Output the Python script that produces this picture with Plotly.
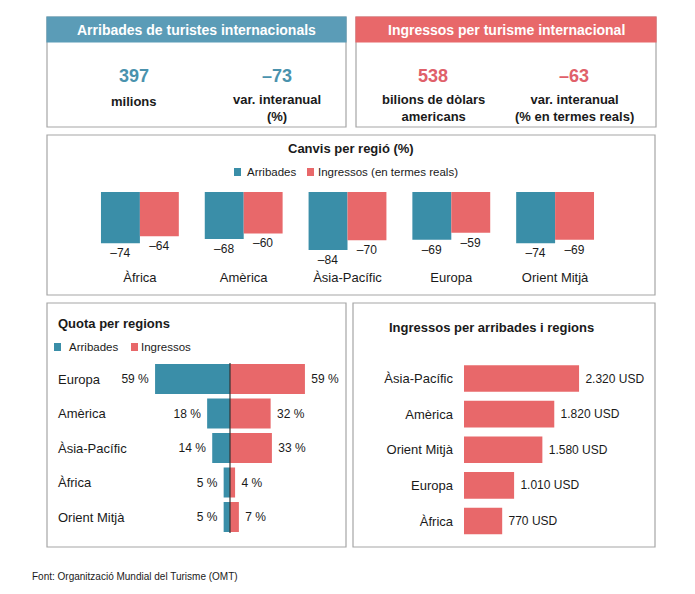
import plotly.graph_objects as go

W, H = 695, 594
OFF = 8  # the page body adds an 8px margin

# --- data ---
regions_change = ["Àfrica", "Amèrica", "Àsia-Pacífic", "Europa", "Orient Mitjà"]
arrivals_change = [-74, -68, -84, -69, -74]
receipts_change = [-64, -60, -70, -59, -69]

regions_share = ["Europa", "Amèrica", "Àsia-Pacífic", "Àfrica", "Orient Mitjà"]
arrivals_share = [59, 18, 14, 5, 5]
receipts_share = [59, 32, 33, 4, 7]

regions_usd = ["Àsia-Pacífic", "Amèrica", "Orient Mitjà", "Europa", "Àfrica"]
receipts_per_arrival = [2320, 1820, 1580, 1010, 770]

BLUE = "#3a8ea8"
BLUE_HEAD = "#5b9cb7"
RED = "#e8686a"
TXT = "#1a1a1a"
FONT = "Liberation Sans, Arial, sans-serif"
NB = "\u00a0"


def px(x):
    return (x - OFF) / W


def py(y):
    return 1 - (y - OFF) / H


def dash(v):
    return "–" + str(abs(v))


fig = go.Figure()

# Canvis per regió
fig.add_trace(go.Bar(
    x=regions_change, y=arrivals_change, marker_color=BLUE, marker_line_width=0,
    text=[dash(v) for v in arrivals_change], textposition="outside",
    textfont=dict(size=12, color=TXT), cliponaxis=False, constraintext="none",
    xaxis="x", yaxis="y", showlegend=False,
))
fig.add_trace(go.Bar(
    x=regions_change, y=receipts_change, marker_color=RED, marker_line_width=0,
    text=[dash(v) for v in receipts_change], textposition="outside",
    textfont=dict(size=12, color=TXT), cliponaxis=False, constraintext="none",
    xaxis="x", yaxis="y", showlegend=False,
))

# Quota per regions
fig.add_trace(go.Bar(
    y=regions_share, x=[-v for v in arrivals_share], orientation="h",
    marker_color=BLUE, marker_line_width=0, width=0.87, offset=-0.435,
    text=[f"{v} %{NB}" for v in arrivals_share], textposition="outside",
    textfont=dict(size=12, color=TXT), cliponaxis=False, constraintext="none",
    xaxis="x2", yaxis="y2", showlegend=False,
))
fig.add_trace(go.Bar(
    y=regions_share, x=receipts_share, orientation="h",
    marker_color=RED, marker_line_width=0, width=0.87, offset=-0.435,
    text=[f"{NB}{v} %" for v in receipts_share], textposition="outside",
    textfont=dict(size=12, color=TXT), cliponaxis=False, constraintext="none",
    xaxis="x2", yaxis="y2", showlegend=False,
))

# Ingressos per arribades i regions
fig.add_trace(go.Bar(
    y=regions_usd, x=receipts_per_arrival, orientation="h",
    marker_color=RED, marker_line_width=0,
    text=[NB + f"{v:,}".replace(",", ".") + " USD" for v in receipts_per_arrival],
    textposition="outside", textfont=dict(size=12, color=TXT),
    cliponaxis=False, constraintext="none",
    xaxis="x3", yaxis="y3", showlegend=False,
))

hidden = dict(showgrid=False, zeroline=False, showline=False, showticklabels=False)

shapes = []


def box(x0, y0, x1, y1, fill="white", line="#a6a6a6"):
    shapes.append(dict(type="rect", xref="paper", yref="paper", layer="below",
                       x0=px(x0), x1=px(x1), y0=py(y1), y1=py(y0),
                       fillcolor=fill, line=dict(color=line, width=1.2)))


box(47, 17, 346, 127)
box(47, 17, 346, 42, fill=BLUE_HEAD, line=BLUE_HEAD)
box(356, 17, 656, 127)
box(356, 17, 656, 42, fill=RED, line=RED)
box(47, 135, 655, 295)
box(47, 303, 346, 547)
box(353, 303, 655, 547)

# legend squares
for x0, y0, c in [(234, 168, BLUE), (307, 168, RED), (54, 343, BLUE), (131, 343, RED)]:
    shapes.append(dict(type="rect", xref="paper", yref="paper",
                       x0=px(x0), x1=px(x0 + 7), y0=py(y0 + 8), y1=py(y0),
                       fillcolor=c, line=dict(width=0)))

# centre line of the share chart
shapes.append(dict(type="line", xref="x2", yref="paper", x0=0, x1=0,
                   y0=py(533), y1=py(363), line=dict(color="#333333", width=1.2)))

ann = []


def text(x, y, s, size=13, color=TXT, bold=False, anchor="center"):
    if bold:
        s = "<b>" + s + "</b>"
    ann.append(dict(x=px(x), y=py(y), xref="paper", yref="paper", text=s,
                    showarrow=False, xanchor=anchor, yanchor="middle",
                    font=dict(size=size, color=color, family=FONT)))


text(196, 30, "Arribades de turistes internacionals", 14, "white", True)
text(506, 30, "Ingressos per turisme internacional", 14, "white", True)
text(134, 76, "397", 18, "#4a92ad", True)
text(277, 76, "–73", 18, "#4a92ad", True)
text(134, 101, "milions", 13, TXT, True)
text(277, 108, "var. interanual<br>(%)", 13, TXT, True)
text(433, 76, "538", 18, "#e0606a", True)
text(574, 76, "–63", 18, "#e0606a", True)
text(433, 108, "bilions de dòlars<br>americans", 13, TXT, True)
text(574, 108, "var. interanual<br>(% en termes reals)", 13, TXT, True)

text(351, 148, "Canvis per regió (%)", 13, TXT, True)
text(245, 172, "Arribades", 11.5, TXT, anchor="left")
text(316, 172, "Ingressos (en termes reals)", 11.5, TXT, anchor="left")

text(56, 323, "Quota per regions", 13, TXT, True, "left")
text(67, 347, "Arribades", 11.5, TXT, anchor="left")
text(139, 347, "Ingressos", 11.5, TXT, anchor="left")

text(387, 327, "Ingressos per arribades i regions", 13, TXT, True, "left")

text(30, 576, "Font: Organització Mundial del Turisme (OMT)", 10, TXT, anchor="left")

for r in regions_share:
    ann.append(dict(x=px(56), y=r, xref="paper", yref="y2", text=r,
                    showarrow=False, xanchor="left", yanchor="middle",
                    font=dict(size=13, color=TXT, family=FONT)))

fig.update_layout(
    width=W, height=H, margin=dict(l=0, r=0, t=0, b=0),
    paper_bgcolor="white", plot_bgcolor="rgba(0,0,0,0)",
    font=dict(family=FONT, color=TXT),
    barmode="group", bargap=0.25, bargroupgap=0,
    shapes=shapes, annotations=ann,
    xaxis=dict(domain=[px(88), px(607)], range=[-0.5, 4.5], showgrid=False,
               zeroline=False, showline=False, ticks="",
               tickfont=dict(size=13, color=TXT), anchor="y"),
    yaxis=dict(domain=[py(268), py(192)], range=[-110, 0], anchor="x", **hidden),
    xaxis2=dict(domain=[px(141.1), px(318.9)], range=[-70, 70], anchor="y2", **hidden),
    yaxis2=dict(domain=[py(534.25), py(361.75)], range=[4.5, -0.5], type="category",
                anchor="x2", **hidden),
    xaxis3=dict(domain=[px(464), px(612.8)], range=[0, 3000], anchor="y3", **hidden),
    yaxis3=dict(domain=[py(538.8), py(360.7)], range=[4.5, -0.5], type="category",
                anchor="x3", showgrid=False, zeroline=False, showline=False,
                ticks="", ticklabelstandoff=10, tickfont=dict(size=13, color=TXT)),
)

fig.write_html("out.html")
